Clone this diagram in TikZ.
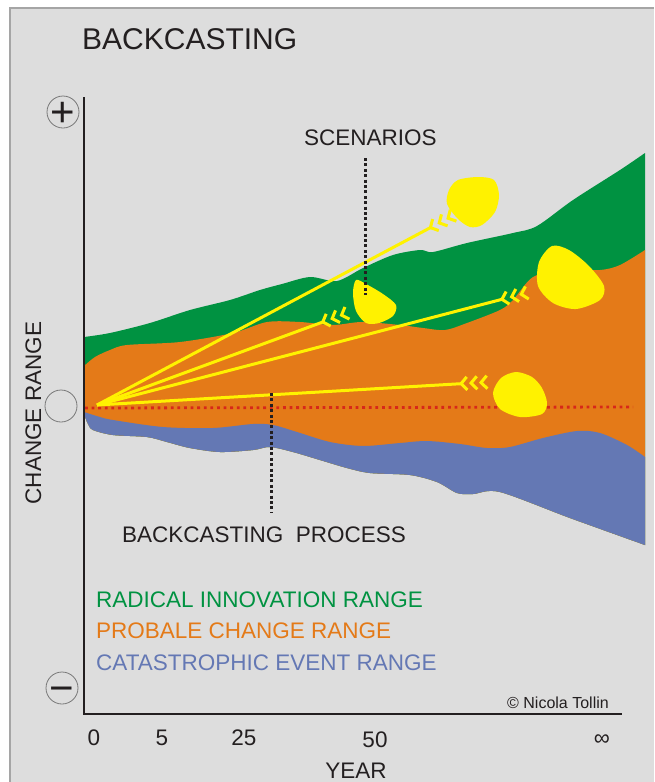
\documentclass[tikz,border=0pt]{standalone}
\usepackage{fontspec}
\setmainfont{Liberation Sans}
\usepackage{tikz}
\usetikzlibrary{calc}

\definecolor{bggray}{RGB}{221,221,221}
\definecolor{framegray}{RGB}{165,165,165}
\definecolor{circgray}{RGB}{120,120,120}
\definecolor{ink}{RGB}{35,31,32}
\definecolor{innovgreen}{RGB}{0,146,65}
\definecolor{probaorange}{RGB}{228,122,24}
\definecolor{catablue}{RGB}{100,120,180}
\definecolor{scenyellow}{RGB}{255,242,0}
\definecolor{zerored}{RGB}{215,40,25}

\begin{document}
\begin{tikzpicture}[x = 1pt, y = -1pt,
  txt/.style = {font = \fontsize{22.5}{27}\selectfont, text = ink, inner sep = 0pt},
  signcirc/.style = {draw = circgray, circle, minimum size = 32pt, inner sep = 0pt, line width = 0.8pt},
  sign/.style = {font = \fontsize{42}{42}\selectfont, text = ink, text height = 29.4pt, text depth = 0pt, inner sep = 0pt},
  dotline/.style = {draw = ink, line width = 3pt, dash pattern = on 3pt off 2.4pt},
  scenline/.style = {draw = scenyellow, line width = 3pt},
  fletch/.style = {draw = scenyellow, line width = 3pt, line join = miter},
  blob/.style = {fill = scenyellow, smooth cycle}]
\useasboundingbox (0,0) rectangle (654,782);
\fill[bggray] (10,8) rectangle (654,782);
\draw[framegray, line width = 1.5pt] (10,782) -- (10,8) -- (654,8);

\begin{scope}
\clip[smooth] plot coordinates {(84,414) (88,424) (93,430) (113,435) (147,437) (167,442) (190,448) (220,452) (253,450) (270,447) (293,452) (320,460) (347,468) (370,473) (410,475) (437,482) (457,493) (473,494) (500,492) (570,518) (645,545)} -- (645,100) -- (84,100) -- cycle;
\fill[innovgreen, smooth] plot coordinates {(84,337) (110,333) (150,323) (190,310) (230,300) (260,290) (282,284) (310,277) (337,281) (363,268) (393,255) (420,250) (433,252) (467,243) (513,233) (537,226) (573,200) (620,170) (645,153)} -- (645,560) -- (84,560) -- cycle;
\fill[probaorange, smooth] plot coordinates {(84,366) (95,357) (110,350) (127,345) (180,342) (233,333) (267,322) (300,322) (333,325) (362,322) (400,325) (423,328) (445,330) (467,323) (500,310) (513,300) (533,277) (563,270) (600,270) (620,265) (645,250)} -- (645,560) -- (84,560) -- cycle;
\fill[catablue, smooth] plot coordinates {(84,412) (100,417) (113,420) (163,427) (213,428) (253,424) (273,425) (297,432) (330,442) (363,446) (400,443) (427,441) (460,444) (487,448) (510,447) (543,438) (577,431) (600,433) (627,445) (645,457)} -- (645,560) -- (84,560) -- cycle;
\end{scope}

\coordinate (zl) at (85,408);
\coordinate (zr) at (633,407);
\draw[zerored, line width = 2.8pt, dash pattern = on 2.8pt off 3.8pt] (zl) -- (zr);

\fill[blob] plot coordinates {(449,190) (458,180) (478,177) (494,180) (499,195) (495,212) (482,225) (470,227) (458,219) (447,204)};
\fill[blob] plot coordinates {(356,280) (366,284) (383,294) (396,305) (393,316) (379,323) (366,323) (356,311) (353,293)};
\fill[blob] plot coordinates {(552,246) (569,250) (589,266) (604,286) (600,300) (576,309) (553,303) (538,286) (539,262)};
\fill[blob] plot coordinates {(516,372) (532,377) (542,388) (547,403) (542,414) (520,417) (500,409) (493,393) (501,378)};

\coordinate (now) at (97,405);
\coordinate (s1) at (456,214);
\coordinate (s2) at (350,312);
\coordinate (s3) at (530,292);
\coordinate (s4) at (490,382);
\foreach \s in {s1, s2, s3, s4} {
  \draw[scenline] (now) -- ($(\s)!29pt!(now)$);
  \foreach \v/\b in {29/23, 19/13, 9/3} {
    \coordinate (vx) at ($(\s)!\v pt!(now)$);
    \coordinate (bs) at ($(\s)!\b pt!(now)$);
    \draw[fletch] ($(bs)!6.5pt!90:(\s)$) -- (vx) -- ($(bs)!6.5pt!-90:(\s)$);
  }
}

\coordinate (scentop) at (365,158);
\coordinate (scenbot) at (365,295);
\draw[dotline] (scentop) -- (scenbot);
\coordinate (proctop) at (271,393);
\coordinate (procbot) at (271,513);
\draw[dotline] (proctop) -- (procbot);

\coordinate (ytop) at (84,97);
\coordinate (corner) at (84,714);
\coordinate (xend) at (622,714);
\draw[ink, line width = 2.5pt] (ytop) -- (corner) -- (xend);

\node[signcirc] (plus) at (63,112) {};
\node[sign] at (plus.center) {+};
\node[signcirc] (zero) at (61,406) {};
\node[signcirc] (minus) at (62,688) {};
\node[sign] at (minus.center) {−};

\node[txt, font = \fontsize{30}{35}\selectfont, anchor = base west] (title) at (82,49) {BACKCASTING};
\node[txt, anchor = base west] (scen) at (304,145) {SCENARIOS};
\node[txt, anchor = base west] (proc) at (122,542) {BACKCASTING\ \ PROCESS};
\node[txt, rotate = 90, anchor = base] (range) at (41,413) {CHANGE RANGE};
\node[txt, text = innovgreen, anchor = base west] (lg1) at (96,607) {RADICAL INNOVATION RANGE};
\node[txt, text = probaorange, anchor = base west] (lg2) at (96,638) {PROBALE CHANGE RANGE};
\node[txt, text = catablue, anchor = base west] (lg3) at (96,670) {CATASTROPHIC EVENT RANGE};
\node[txt, font = \fontsize{16}{19}\selectfont, anchor = base west] (copy) at (507,708) {© Nicola Tollin};

\node[txt, anchor = base] (t0) at (94,745) {0};
\node[txt, anchor = base] (t5) at (162,745) {5};
\node[txt, anchor = base] (t25) at (244,745) {25};
\node[txt, anchor = base] (t50) at (375,747) {50};
\node[txt, anchor = base] (tinf) at (602,745) {∞};
\node[txt, anchor = base] (year) at (356,778) {YEAR};
\end{tikzpicture}
\end{document}
